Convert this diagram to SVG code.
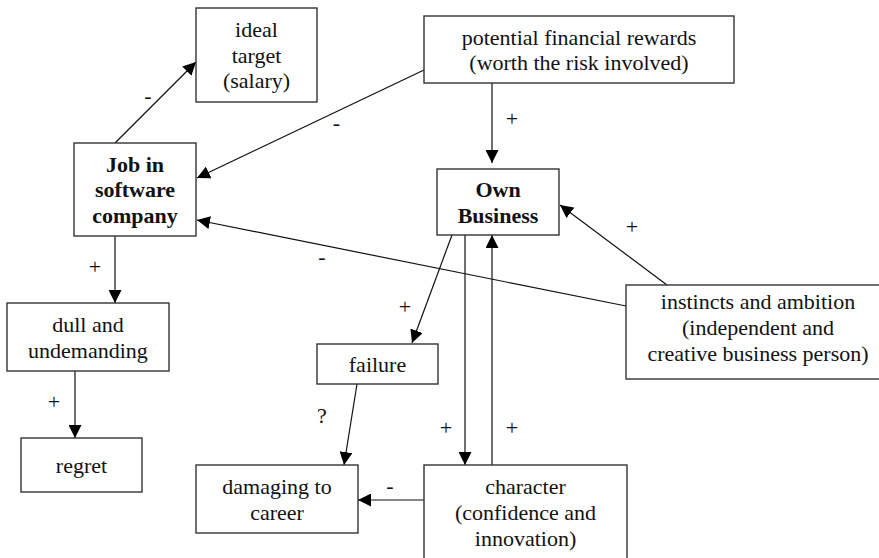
<svg xmlns="http://www.w3.org/2000/svg" width="879" height="558" viewBox="0 0 879 558">
<style>
.box{fill:#fff;stroke:#333;stroke-width:1.4}
text{font-family:'Liberation Serif','DejaVu Serif',serif;font-size:22px;fill:#111;text-anchor:middle}
.b{font-weight:bold}
.c{stroke:#111;stroke-width:1.2;fill:none;marker-end:url(#ah)}
</style>
<defs>
<marker id="ah" markerUnits="userSpaceOnUse" markerWidth="14" markerHeight="13" refX="13" refY="6.5" orient="auto">
<path d="M0,0 L13,6.5 L0,13 z" fill="#000"/>
</marker>
</defs>
<rect width="879" height="558" fill="#fff"/>
<g id="connectors">
<line class="c" x1="115" y1="143" x2="196" y2="62"/>
<line class="c" x1="424" y1="70" x2="197" y2="178"/>
<line class="c" x1="626" y1="306" x2="197" y2="220"/>
<line class="c" x1="115" y1="236" x2="115" y2="303"/>
<line class="c" x1="75" y1="371" x2="75" y2="438"/>
<line class="c" x1="492" y1="83" x2="492" y2="163"/>
<line class="c" x1="667" y1="285" x2="560" y2="205"/>
<line class="c" x1="452" y1="235" x2="412" y2="343"/>
<line class="c" x1="465" y1="235" x2="465" y2="465"/>
<line class="c" x1="492" y1="465" x2="492" y2="235"/>
<line class="c" x1="357" y1="384" x2="344" y2="465"/>
<line class="c" x1="424" y1="500" x2="358" y2="500"/>
<text x="148" y="102.5">-</text>
<text x="336.5" y="129.5">-</text>
<text x="322" y="263.5">-</text>
<text x="95" y="274">+</text>
<text x="54" y="409">+</text>
<text x="512" y="126">+</text>
<text x="632" y="234">+</text>
<text x="405" y="314">+</text>
<text x="446" y="435">+</text>
<text x="512" y="435">+</text>
<text x="322" y="423">?</text>
<text x="390" y="492.5">-</text>
</g>
<g id="ideal">
<rect class="box" x="196" y="8" width="121" height="94"/>
<text x="256.5" y="37">ideal</text>
<text x="256.5" y="62.5">target</text>
<text x="256.5" y="88">(salary)</text>
</g>
<g id="job">
<rect class="box" x="74" y="143" width="122" height="93"/>
<text class="b" x="135" y="171.5">Job in</text>
<text class="b" x="135" y="197">software</text>
<text class="b" x="135" y="222.5">company</text>
</g>
<g id="potential">
<rect class="box" x="424" y="16" width="310" height="67"/>
<text x="579" y="44.5">potential financial rewards</text>
<text x="579" y="70">(worth the risk involved)</text>
</g>
<g id="own">
<rect class="box" x="437" y="169" width="122" height="66"/>
<text class="b" x="498" y="197">Own</text>
<text class="b" x="498" y="222.5">Business</text>
</g>
<g id="instincts">
<rect class="box" x="626" y="285" width="264" height="94"/>
<text x="758" y="309">instincts and ambition</text>
<text x="758" y="335">(independent and</text>
<text x="758" y="361">creative business person)</text>
</g>
<g id="dull">
<rect class="box" x="7" y="303" width="162" height="68"/>
<text x="88" y="332">dull and</text>
<text x="88" y="357.5">undemanding</text>
</g>
<g id="regret">
<rect class="box" x="21" y="438" width="121" height="54"/>
<text x="81.5" y="472.5">regret</text>
</g>
<g id="failure">
<rect class="box" x="317" y="344" width="121" height="40"/>
<text x="377.5" y="371.5">failure</text>
</g>
<g id="damaging">
<rect class="box" x="196" y="465" width="162" height="68"/>
<text x="277" y="494">damaging to</text>
<text x="277" y="519.5">career</text>
</g>
<g id="character">
<rect class="box" x="424" y="465" width="203" height="100"/>
<text x="525.5" y="494">character</text>
<text x="525.5" y="520">(confidence and</text>
<text x="525.5" y="545.5">innovation)</text>
</g>
</svg>
